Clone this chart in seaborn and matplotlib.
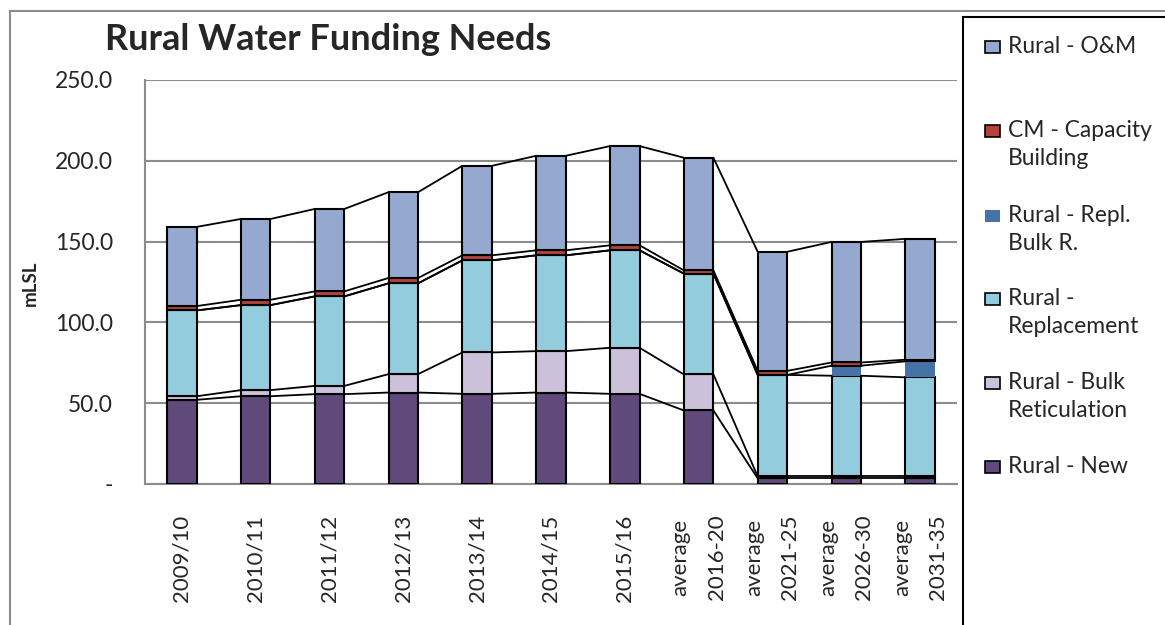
import matplotlib
matplotlib.use('Agg')
import matplotlib.pyplot as plt
from matplotlib.patches import Rectangle
import numpy as np
import pandas as pd
import seaborn as sns

# values (mLSL)
categories = ['2009/10', '2010/11', '2011/12', '2012/13', '2013/14', '2014/15', '2015/16',
              'average\n2016-20', 'average\n2021-25', 'average\n2026-30', 'average\n2031-35']
rural_new = [52.1, 54.3, 55.6, 56.6, 55.8, 56.6, 55.8, 45.5, 3.5, 3.5, 3.5]
rural_bulk = [2.2, 3.8, 5.1, 11.4, 25.6, 25.6, 28.5, 22.3, 1.2, 1.2, 1.2]
rural_replacement = [53.1, 52.6, 55.4, 56.2, 57.0, 59.3, 60.3, 62.4, 62.8, 62.3, 61.3]
rural_repl_bulk = [0, 0, 0, 0, 0, 0, 0, 0, 0, 6.2, 9.9]
cm_capacity = [2.7, 3.3, 3.1, 3.3, 3.1, 3.1, 3.1, 2.0, 2.5, 2.0, 1.0]
rural_om = [49.0, 50.0, 51.0, 53.1, 55.4, 58.5, 61.4, 69.7, 73.7, 74.6, 74.8]

series_names = ['Rural - New', 'Rural - Bulk Reticulation', 'Rural - Replacement',
                'Rural - Repl. Bulk R.', 'CM - Capacity Building', 'Rural - O&M']
legend_labels = ['Rural - New', 'Rural - Bulk\nReticulation', 'Rural -\nReplacement',
                 'Rural - Repl.\nBulk R.', 'CM - Capacity\nBuilding', 'Rural - O&M']
colors = ['#604A7B', '#CCC1DA', '#93CDDD', '#4572A7', '#B3413D', '#95A9D0']

df = pd.DataFrame({
    'period': categories,
    'Rural - New': rural_new,
    'Rural - Bulk Reticulation': rural_bulk,
    'Rural - Replacement': rural_replacement,
    'Rural - Repl. Bulk R.': rural_repl_bulk,
    'CM - Capacity Building': cm_capacity,
    'Rural - O&M': rural_om,
})

sns.set_style('white')
plt.rcParams['font.family'] = ['Lato', 'DejaVu Sans']

fig = plt.figure(figsize=(11.65, 6.25), dpi=100)
ax = fig.add_axes([145 / 1165, 1 - 484 / 625, (957 - 145) / 1165, (484 - 80) / 625])

grey = '#8C8C8C'
bar_w = 0.4
bottom = np.zeros(len(categories))
tops = []
for name, col in zip(series_names, colors):
    vals = df[name].values
    lw = 0 if name == 'Rural - Repl. Bulk R.' else 1.5
    sns.barplot(x='period', y=name, data=df, bottom=bottom, color=col, width=bar_w,
                edgecolor='black', linewidth=lw, saturation=1, ax=ax, zorder=3)
    bottom = bottom + vals
    tops.append(bottom.copy())

# series lines joining the segment tops of neighbouring bars
xs = np.arange(len(categories))
for top in tops:
    for i in range(len(categories) - 1):
        ax.plot([xs[i] + bar_w / 2, xs[i + 1] - bar_w / 2], [top[i], top[i + 1]],
                color='black', lw=1.3, zorder=4)

ax.set_xlim(-0.5, len(categories) - 0.5)
ax.set_ylim(0, 250)
ax.set_yticks([0, 50, 100, 150, 200, 250])
ax.set_yticklabels(['-', '50.0', '100.0', '150.0', '200.0', '250.0'])
ax.yaxis.grid(True, color=grey, lw=1.5, zorder=0)
ax.set_axisbelow(True)
ax.set_xticks(xs)
ax.set_xticklabels(categories, rotation=90, fontsize=16, linespacing=2.0)
ax.set_xticks(np.arange(-0.5, len(categories)), minor=True)
ax.tick_params(axis='x', which='major', length=0, pad=22)
ax.tick_params(axis='x', which='minor', length=6, width=1.5, color=grey, direction='out')
ax.tick_params(axis='y', length=6, width=1.5, color=grey, pad=17, labelsize=16.5, direction='out')
ax.set_xlabel('')
ax.set_ylabel('')
for s in ['top', 'right']:
    ax.spines[s].set_visible(False)
for s in ['left', 'bottom']:
    ax.spines[s].set_color(grey)
    ax.spines[s].set_linewidth(1.5)

fig.text(30 / 1165, 1 - 283 / 625, 'mLSL', rotation=90, fontsize=13.5, fontweight='bold',
         ha='center', va='center')
fig.text(105 / 1165, 1 - 40 / 625, 'Rural Water Funding Needs', fontsize=26,
         fontweight='bold', ha='left', va='center')

# outer chart border and legend box
fig.add_artist(Rectangle((10 / 1165, -0.1), 1.2, 1 - 11 / 625 + 0.1, transform=fig.transFigure,
                         fill=False, edgecolor='#8C8C8C', lw=1.5))
fig.add_artist(Rectangle((963 / 1165, -0.1), 1.2, 1 - 17 / 625 + 0.1, transform=fig.transFigure,
                         fill=False, edgecolor='black', lw=1.5))

legend_y = [467, 383, 299, 216, 131, 47]
for lab, col, yy, name in zip(legend_labels, colors, legend_y, series_names):
    lw = 0 if name == 'Rural - Repl. Bulk R.' else 1.2
    fig.add_artist(Rectangle((985 / 1165, 1 - (yy + 6) / 625), 15 / 1165, 12 / 625,
                             transform=fig.transFigure, facecolor=col, edgecolor='black', lw=lw))
    fig.text(1008 / 1165, 1 - (yy - 11) / 625, lab, fontsize=16.5, ha='left', va='top',
             linespacing=1.4)

fig.savefig('out.png', dpi=100)
